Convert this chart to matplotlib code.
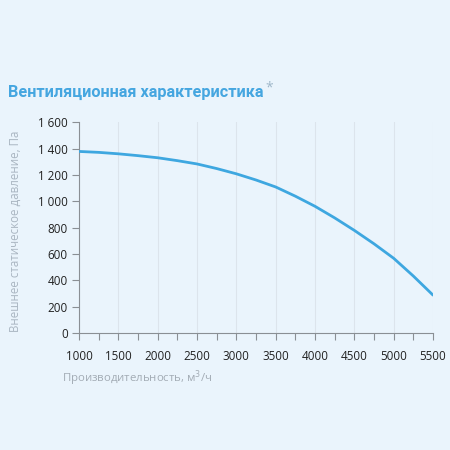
import matplotlib.pyplot as plt

flow = [1000, 1250, 1500, 1750, 2000, 2250, 2500, 2750, 3000, 3250,
        3500, 3750, 4000, 4250, 4500, 4750, 5000, 5250, 5500]
pressure = [1380, 1373, 1362, 1348, 1332, 1310, 1285, 1250, 1210, 1163,
            1110, 1040, 963, 875, 780, 678, 568, 433, 288]
x_ticks = [1000, 1500, 2000, 2500, 3000, 3500, 4000, 4500, 5000, 5500]
y_ticks = [0, 200, 400, 600, 800, 1000, 1200, 1400, 1600]
y_labels = ['0', '200', '400', '600', '800', '1 000', '1 200', '1 400', '1 600']

bg = '#eaf4fc'
plt.rcParams['font.family'] = ['Open Sans', 'DejaVu Sans']

fig = plt.figure(figsize=(4.5, 4.5), dpi=100, facecolor=bg)
ax = fig.add_axes([79/450, 1-333/450, 354/450, 210.5/450], facecolor=bg)

ax.plot(flow, pressure, color='#3ea7e0', lw=2.0, solid_capstyle='round', zorder=3)

ax.set_xlim(1000, 5500)
ax.set_ylim(0, 1600)
ax.set_xticks(x_ticks)
ax.set_xticks(range(1250, 5500, 500), minor=True)
ax.set_yticks(y_ticks)
ax.set_yticklabels(y_labels)
ax.grid(axis='x', which='major', color='#dce4ec', lw=0.8)

for s in ['top', 'right']:
    ax.spines[s].set_visible(False)
for s in ['left', 'bottom']:
    ax.spines[s].set_color('#8a8f94')
    ax.spines[s].set_linewidth(0.8)

ax.tick_params(axis='both', which='both', colors='#8a8f94', length=5, width=0.8,
               labelcolor='#222222', labelsize=8.4)
ax.tick_params(axis='x', pad=7)
ax.tick_params(axis='y', pad=3)

fig.text(8/450, 1-92/450, 'Вентиляционная характеристика', color='#45a6e0',
         fontsize=11.7, fontweight='bold', family='Roboto', va='center')
fig.text(265/450, 1-88/450, '*', color='#9fb7c9', fontsize=10, va='center')

fig.text(62/450, 1-378/450, 'Производительность, м$^3$/ч', color='#a3acb5',
         fontsize=8.2, va='center', ha='left')
fig.text(15/450, 1-231/450, 'Внешнее статическое давление, Па', color='#a9b5c1',
         fontsize=8.3, rotation=90, va='center', ha='center')

fig.savefig('out.png', dpi=100, facecolor=bg)
